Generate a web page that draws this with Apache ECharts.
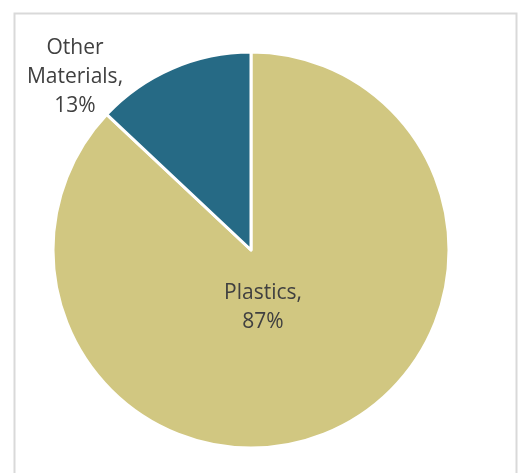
<!DOCTYPE html>
<html><head><meta charset="utf-8">
<script src="https://cdn.jsdelivr.net/npm/echarts@6/dist/echarts.min.js"></script>
<style>html,body{margin:0;padding:0;background:#fff}#c{width:518px;height:473px}</style>
</head><body><div id="c"></div>
<script>
const categories = ["Plastics", "Other Materials"];
const values = [87, 13];
const colors = ["#d1c781", "#266a85"];

const chart = echarts.init(document.getElementById('c'), null, {renderer: 'canvas'});
const labelBase = {fontFamily: 'Open Sans', fontSize: 21, color: '#404040', lineHeight: 29, align: 'center'};
chart.setOption({
  animation: false,
  graphic: [{type: 'rect', shape: {x: 14.5, y: 13.5, width: 502, height: 480}, style: {fill: 'none', stroke: '#d9d9d9', lineWidth: 2}, z: -1}],
  series: [{
    type: 'pie',
    center: [251, 250],
    radius: [0, 198],
    startAngle: 90,
    clockwise: true,
    labelLine: {show: false},
    itemStyle: {borderColor: '#ffffff', borderWidth: 3},
    data: categories.map((n, i) => ({
      name: n, value: values[i], itemStyle: {color: colors[i]},
      label: Object.assign({show: true, position: 'center',
        formatter: i === 0 ? '{b},\n{c}%' : 'Other\nMaterials,\n{c}%',
        offset: i === 0 ? [12, 58] : [-176, -173]}, labelBase)
    }))
  }]
});
</script></body></html>
